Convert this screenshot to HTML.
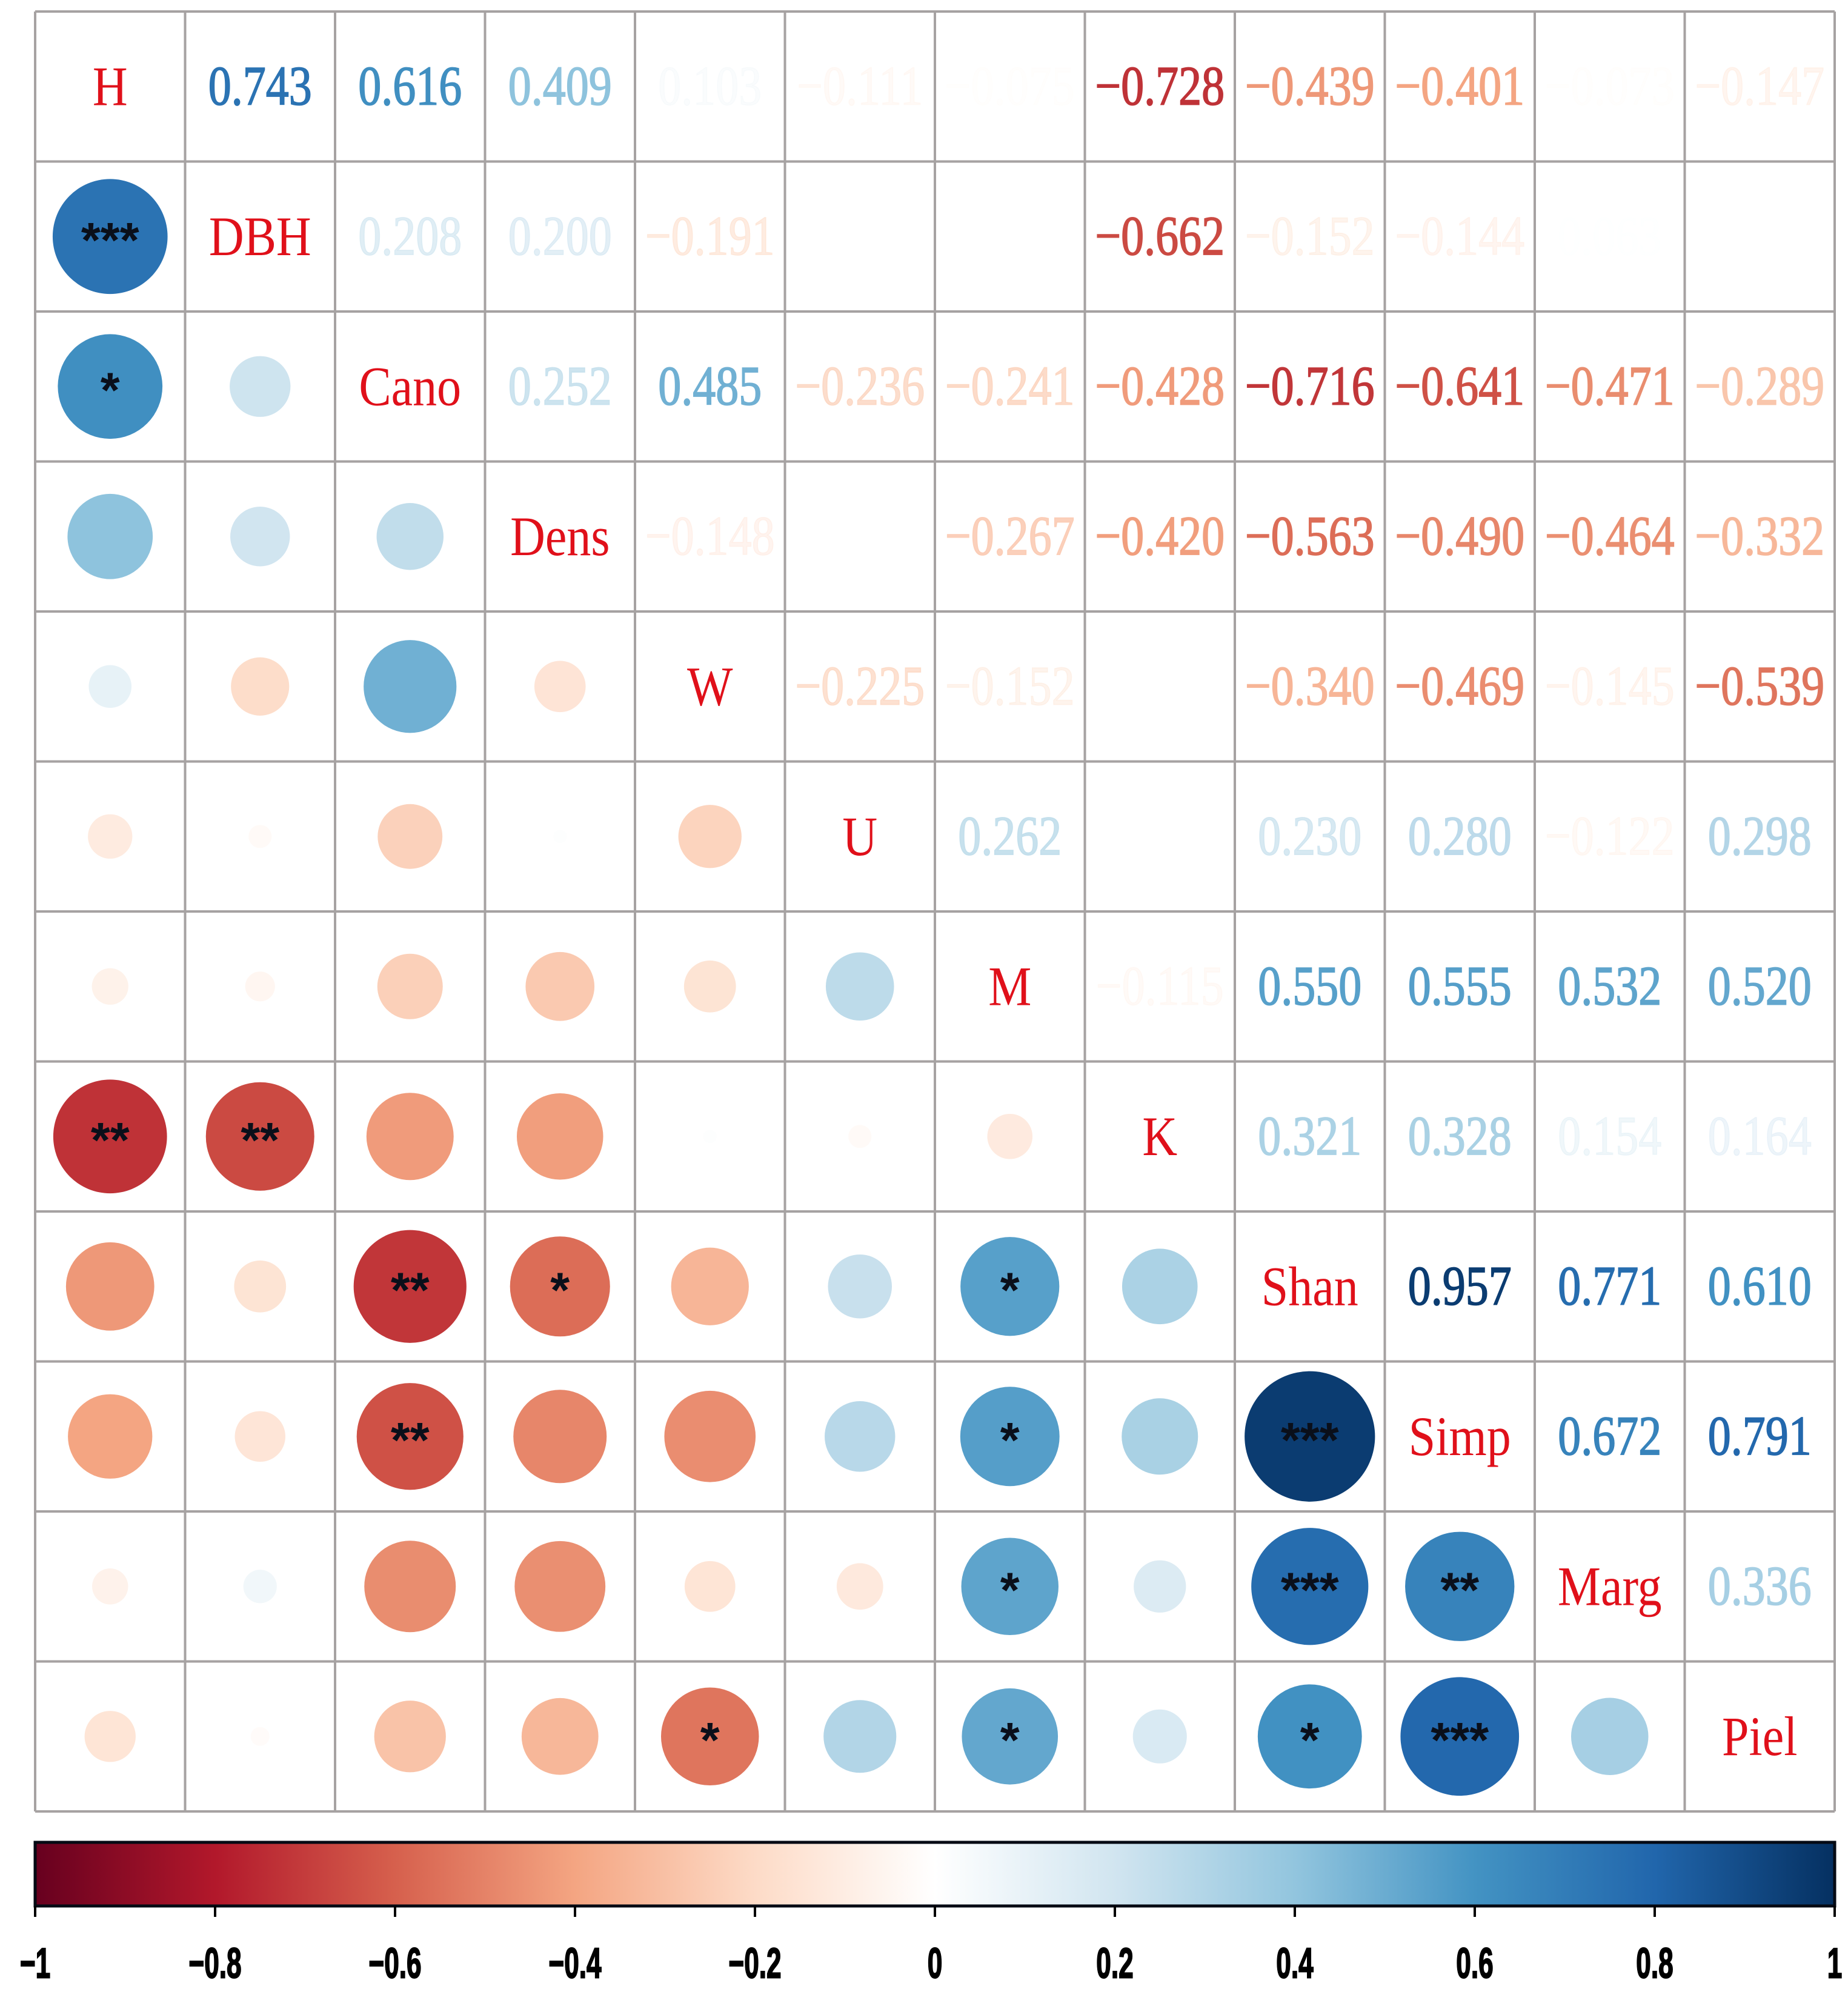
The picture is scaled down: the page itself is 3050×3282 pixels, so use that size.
<!DOCTYPE html>
<html><head><meta charset="utf-8"><style>
html,body{margin:0;padding:0;background:#fff;}
svg{display:block;}
</style></head><body>
<svg id="chart" width="3050" height="3282" viewBox="0 0 3050 3282" xmlns="http://www.w3.org/2000/svg">
<defs>
<linearGradient id="cbgrad" x1="0" x2="1" y1="0" y2="0">
<stop offset="0" stop-color="#67001f"/><stop offset="0.1" stop-color="#b2182b"/><stop offset="0.2" stop-color="#d6604d"/><stop offset="0.3" stop-color="#f4a582"/><stop offset="0.4" stop-color="#fddbc7"/><stop offset="0.5" stop-color="#ffffff"/><stop offset="0.6" stop-color="#d1e5f0"/><stop offset="0.7" stop-color="#92c5de"/><stop offset="0.8" stop-color="#4393c3"/><stop offset="0.9" stop-color="#2166ac"/><stop offset="1" stop-color="#053061"/>
</linearGradient>
</defs>
<g id="cells"></g>
<g id="grid"></g>
<g id="colorbar"></g>
</svg>
<script>
const variables = ["H","DBH","Cano","Dens","W","U","M","K","Shan","Simp","Marg","Piel"];
// upper triangle rows (values for j>i)
const rowH    = [0.743,0.616,0.409,0.103,-0.111,-0.075,-0.728,-0.439,-0.401,-0.073,-0.147];
const rowDBH  = [0.208,0.200,-0.191,-0.03,-0.05,-0.662,-0.152,-0.144,0.063,-0.02];
const rowCano = [0.252,0.485,-0.236,-0.241,-0.428,-0.716,-0.641,-0.471,-0.289];
const rowDens = [-0.148,0.01,-0.267,-0.420,-0.563,-0.490,-0.464,-0.332];
const rowW    = [-0.225,-0.152,0.01,-0.340,-0.469,-0.145,-0.539];
const rowU    = [0.262,-0.03,0.230,0.280,-0.122,0.298];
const rowM    = [-0.115,0.550,0.555,0.532,0.520];
const rowK    = [0.321,0.328,0.154,0.164];
const rowShan = [0.957,0.771,0.610];
const rowSimp = [0.672,0.791];
const rowMarg = [0.336];
const upperRows = [rowH,rowDBH,rowCano,rowDens,rowW,rowU,rowM,rowK,rowShan,rowSimp,rowMarg];
// significance [row, col, stars] for lower triangle
const sigRows = [1,2,7,7,8,8,8,9,9,9,10,10,10,11,11,11,11];
const sigCols = [0,0,0,1,2,3,6,2,6,8,6,8,9,4,6,8,9];
const sigStars = ["***","*","**","**","**","*","*","**","*","***","*","***","**","*","*","*","***"];
const cbTicks = [-1,-0.8,-0.6,-0.4,-0.2,0,0.2,0.4,0.6,0.8,1];
const cbTickLabels = ["\u22121","\u22120.8","\u22120.6","\u22120.4","\u22120.2","0","0.2","0.4","0.6","0.8","1"];

const NS="http://www.w3.org/2000/svg";
const X0=58, Y0=19, CELL=247.5, N=variables.length, RMAX=110;
const CB_X0=58, CB_X1=3028, CB_Y0=3040, CB_Y1=3145;
const stops=[[-1,[103,0,31]],[-0.8,[178,24,43]],[-0.6,[214,96,77]],[-0.4,[244,165,130]],[-0.2,[253,219,199]],[0,[255,255,255]],[0.2,[209,229,240]],[0.4,[146,197,222]],[0.6,[67,147,195]],[0.8,[33,102,172]],[1,[5,48,97]]];
function cmap(v){v=Math.max(-1,Math.min(1,v));for(let i=0;i<stops.length-1;i++){const [a,ca]=stops[i],[b,cb]=stops[i+1];if(v<=b){const t=(v-a)/(b-a);return "rgb("+ca.map((c,k)=>Math.round(c+(cb[k]-c)*t)).join(",")+")";}}return "rgb(5,48,97)";}
function cx(j){return X0+CELL*(j+0.5);} function cy(i){return Y0+CELL*(i+0.5);}
function cbx(v){return CB_X0+(v+1)/2*(CB_X1-CB_X0);}
function mk(tag,attrs,parent){const e=document.createElementNS(NS,tag);for(const k in attrs)e.setAttribute(k,attrs[k]);parent.appendChild(e);return e;}
function corr(i,j){if(i===j)return 1;const a=Math.min(i,j),b=Math.max(i,j);return upperRows[a][b-a-1];}
const cells=document.getElementById('cells');
const fmt=v=>(v<0?"\u2212":"")+Math.abs(v).toFixed(3);
for(let i=0;i<N;i++){for(let j=0;j<N;j++){
  if(i===j){
    const t=mk('text',{x:0,y:0,'font-family':'"Liberation Serif",serif','font-size':80,fill:'#e0101a','text-anchor':'middle','dominant-baseline':'central',transform:`translate(${cx(j)},${cy(i)}) scale(1,1.15)`},cells);
    t.textContent=variables[i];
    
    
  } else if(j>i){
    const v=corr(i,j);
    const op=Math.max(0,Math.min(1,(Math.abs(v)-0.05)/0.25));
    const col=cmap(v);
    const t=mk('text',{x:0,y:0,'font-family':'"Liberation Serif",serif','font-size':80,fill:col,stroke:col,'stroke-width':1.5,'fill-opacity':op,'stroke-opacity':op,'text-anchor':'middle','dominant-baseline':'central',transform:`translate(${cx(j)},${cy(i)}) scale(0.95,1.15)`},cells);
    t.textContent=fmt(v);
    
    
  } else {
    const v=corr(i,j);
    const c=mk('circle',{cx:cx(j),cy:cy(i),r:RMAX*Math.sqrt(Math.abs(v)),fill:cmap(v)},cells);
    
    
  }
}}
for(let k=0;k<sigRows.length;k++){
  const t=mk('text',{x:cx(sigCols[k]),y:cy(sigRows[k])+34,'font-family':'"Liberation Sans",sans-serif','font-weight':'bold','font-size':82,fill:'#0a0f1a','text-anchor':'middle'},cells);
  t.textContent=sigStars[k];
  
  
}
const grid=document.getElementById('grid');
for(let k=0;k<=N;k++){
  const l1=mk('line',{x1:X0+CELL*k,x2:X0+CELL*k,y1:Y0,y2:Y0+CELL*N,stroke:'#a6a2a2','stroke-width':4},grid);
  
  
  const l2=mk('line',{y1:Y0+CELL*k,y2:Y0+CELL*k,x1:X0,x2:X0+CELL*N,stroke:'#a6a2a2','stroke-width':4},grid);
  
  
}
const cb=document.getElementById('colorbar');
const bar=mk('rect',{x:CB_X0,y:CB_Y0,width:CB_X1-CB_X0,height:CB_Y1-CB_Y0,fill:'url(#cbgrad)',stroke:'#050a14','stroke-width':5},cb);


for(let k=0;k<cbTicks.length;k++){
  const x=cbx(cbTicks[k]);
  const tk=mk('line',{x1:x,x2:x,y1:CB_Y1,y2:CB_Y1+18,stroke:'#000','stroke-width':4},cb);
  
  
  const t=mk('text',{x:0,y:0,'font-family':'"Liberation Sans",sans-serif','font-weight':'bold','font-size':52,fill:'#000',stroke:'#000','stroke-width':1.5,'text-anchor':'middle','dominant-baseline':'central',transform:`translate(${x},3240) scale(0.85,1.35)`},cb);
  t.textContent=cbTickLabels[k];
  
  
}
</script>
</body></html>
